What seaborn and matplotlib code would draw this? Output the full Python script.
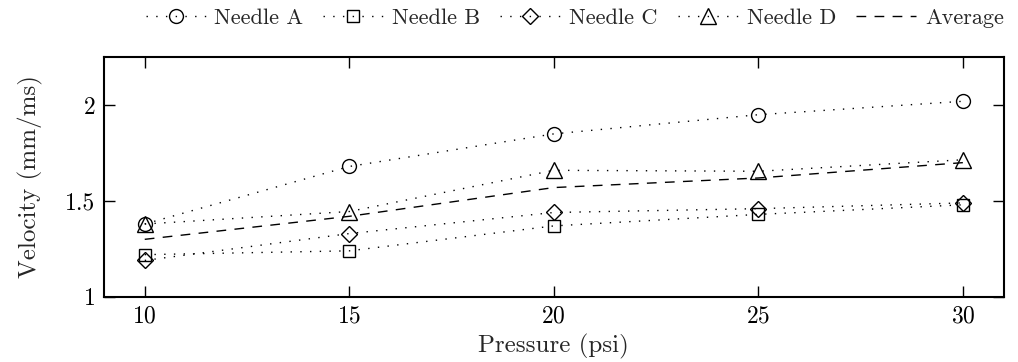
import matplotlib
matplotlib.use("Agg")
import matplotlib.pyplot as plt
import seaborn as sns
import pandas as pd

pressure = [10, 15, 20, 25, 30]
needle_a = [1.38, 1.68, 1.85, 1.95, 2.02]
needle_b = [1.22, 1.24, 1.37, 1.43, 1.48]
needle_c = [1.19, 1.33, 1.44, 1.46, 1.49]
needle_d = [1.38, 1.445, 1.66, 1.655, 1.715]
average = [1.30, 1.42, 1.57, 1.62, 1.70]

series_names = ["Needle A", "Needle B", "Needle C", "Needle D", "Average"]
series_vals = [needle_a, needle_b, needle_c, needle_d, average]
markers = ["o", "s", "D", "^", None]
msizes = [10, 9, 8, 11, 0]

sns.set_style("ticks")
plt.rcParams["font.family"] = ["cmr10", "DejaVu Serif"]
plt.rcParams["mathtext.fontset"] = "cm"
plt.rcParams["axes.formatter.use_mathtext"] = True

fig, ax = plt.subplots(figsize=(10.18, 3.62), dpi=100)
fig.subplots_adjust(left=0.102, right=0.986, top=0.842, bottom=0.18)

for name, vals, mk, ms in zip(series_names, series_vals, markers, msizes):
    df = pd.DataFrame({"Pressure": pressure, "Velocity": vals})
    if name == "Average":
        sns.lineplot(data=df, x="Pressure", y="Velocity", ax=ax, color="black",
                     linewidth=1.0, dashes=False, label=name,
                     linestyle=(0, (7, 6)))
    else:
        sns.lineplot(data=df, x="Pressure", y="Velocity", ax=ax, color="black",
                     linewidth=1.0, marker=mk, markersize=ms,
                     markerfacecolor="none", markeredgecolor="black",
                     markeredgewidth=1.0, label=name,
                     linestyle=(0, (1, 6)))

ax.set_xlim(9, 31)
ax.set_ylim(1, 2.25)
ax.set_xticks([10, 15, 20, 25, 30])
ax.set_yticks([1, 1.5, 2])
ax.set_yticklabels(["1", "1.5", "2"])
ax.tick_params(direction="in", length=8, width=1, top=True, right=True,
               labelsize=17, pad=6, colors="black")
for s in ax.spines.values():
    s.set_linewidth(1.5)
    s.set_color("black")
ax.set_xlabel("Pressure (psi)", fontsize=18, labelpad=5)
ax.set_ylabel("Velocity (mm/ms)", fontsize=18, labelpad=16)

leg = ax.legend(loc="center right", bbox_to_anchor=(1.0, 1.163), ncol=5,
                frameon=False, fontsize=16, handlelength=2.7,
                columnspacing=0.9, handletextpad=0.4, borderaxespad=0.0,
                borderpad=0.0)

fig.savefig("out.png", dpi=100)
